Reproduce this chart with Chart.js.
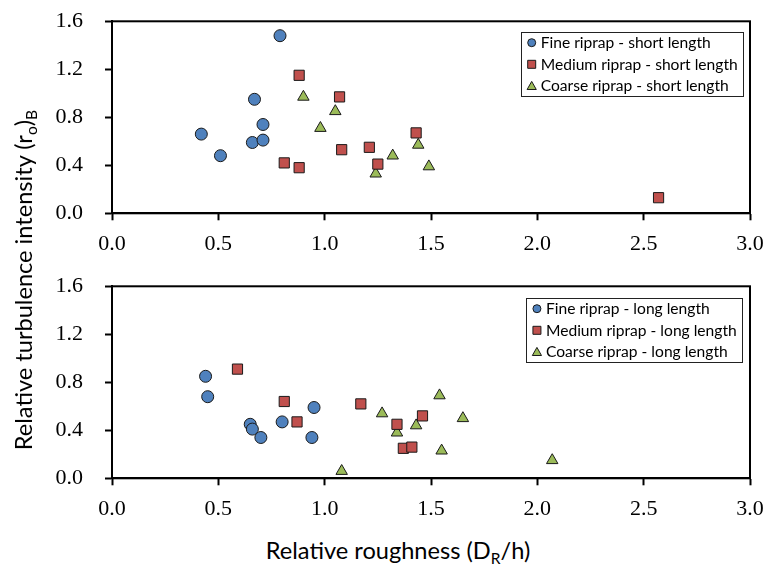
<!DOCTYPE html>
<html>
<head>
<meta charset="utf-8">
<script src="https://cdn.jsdelivr.net/npm/chart.js@4/dist/chart.umd.min.js"></script>
<style>
  html, body { margin: 0; padding: 0; background: #fff; }
  #wrap { position: relative; width: 765px; height: 567px; background: #fff; overflow: hidden; }
  canvas { position: absolute; left: 0; }
  #cTop { top: 0; }
  #cBottom { top: 262px; }
  .title { position: absolute; font-family: Lato, sans-serif; font-size: 23.6px; line-height: 26px;
           color: #000; white-space: nowrap; text-align: center; }
  .title sub { font-size: 0.66em; line-height: 0; vertical-align: -0.35em; }
  #xTitle { left: 198px; width: 400px; top: 537px; height: 26px; }
  #yTitle { left: -187px; width: 420px; top: 267px; height: 26px; transform: rotate(-90deg); transform-origin: 50% 50%; }
</style>
</head>
<body>
<div id="wrap">
  <canvas id="cTop" width="765" height="262"></canvas>
  <canvas id="cBottom" width="765" height="265"></canvas>
  <div class="title" id="xTitle">Relative roughness (D<sub>R</sub>/h)</div>
  <div class="title" id="yTitle">Relative turbulence intensity (r<sub>o</sub>)<sub>B</sub></div>
</div>
<script>
// Axis ranges and tick steps
const xTickValues = [0.0, 0.5, 1.0, 1.5, 2.0, 2.5, 3.0];
const yTickValues = [0.0, 0.4, 0.8, 1.2, 1.6];

// Short-length test series: relative roughness (x) and turbulence intensity (y)
const fineShortX   = [0.42, 0.51, 0.66, 0.67, 0.71, 0.71, 0.79];
const fineShortY   = [0.66, 0.48, 0.59, 0.95, 0.74, 0.61, 1.48];
const mediumShortX = [0.81, 0.88, 0.88, 1.07, 1.08, 1.21, 1.25, 1.43, 2.57];
const mediumShortY = [0.42, 0.38, 1.15, 0.97, 0.53, 0.55, 0.41, 0.67, 0.13];
const coarseShortX = [0.90, 0.98, 1.05, 1.24, 1.32, 1.44, 1.49];
const coarseShortY = [0.97, 0.71, 0.85, 0.33, 0.48, 0.57, 0.39];

// Long-length test series
const fineLongX   = [0.44, 0.45, 0.65, 0.66, 0.70, 0.80, 0.94, 0.95];
const fineLongY   = [0.85, 0.68, 0.45, 0.41, 0.34, 0.47, 0.34, 0.59];
const mediumLongX = [0.59, 0.81, 0.87, 1.17, 1.34, 1.37, 1.41, 1.46];
const mediumLongY = [0.91, 0.64, 0.47, 0.62, 0.45, 0.25, 0.26, 0.52];
const coarseLongX = [1.08, 1.27, 1.34, 1.43, 1.54, 1.65, 1.55, 2.07];
const coarseLongY = [0.06, 0.54, 0.38, 0.44, 0.69, 0.50, 0.23, 0.15];

const shortLabels = ['Fine riprap - short length', 'Medium riprap - short length', 'Coarse riprap - short length'];
const longLabels  = ['Fine riprap - long length', 'Medium riprap - long length', 'Coarse riprap - long length'];

const COLORS = { fine: '#4F81BD', medium: '#C0504D', coarse: '#9BBB59' };
const MARKERS = {
  fine:   { pointStyle: 'circle',   radius: 6 },
  medium: { pointStyle: 'rect',     radius: 7.2 },
  coarse: { pointStyle: 'triangle', radius: 6.6 }
};

function pairs(xs, ys) { return xs.map((x, i) => ({ x: x, y: ys[i] })); }

function series(label, kind, xs, ys) {
  return {
    label: label,
    kind: kind,
    data: pairs(xs, ys),
    backgroundColor: COLORS[kind],
    borderColor: '#1a1a1a',
    borderWidth: 1,
    pointStyle: MARKERS[kind].pointStyle,
    pointRadius: MARKERS[kind].radius,
    pointHoverRadius: MARKERS[kind].radius,
    showLine: false
  };
}

// Frame around the plot area (top and right edges complete the box)
const frame = {
  id: 'frame',
  afterDraw(chart) {
    const a = chart.chartArea, ctx = chart.ctx;
    ctx.save();
    ctx.strokeStyle = '#000';
    ctx.lineWidth = 2;
    ctx.strokeRect(a.left, a.top, a.right - a.left, a.bottom - a.top);
    ctx.restore();
  }
};

// Boxed legend inside the upper-right corner of the plot area
function legendMarker(ctx, kind, x, y) {
  ctx.fillStyle = COLORS[kind];
  ctx.strokeStyle = '#1a1a1a';
  ctx.lineWidth = 1;
  ctx.beginPath();
  if (kind === 'fine') {
    ctx.arc(x, y, 4, 0, Math.PI * 2);
  } else if (kind === 'medium') {
    ctx.rect(x - 4, y - 4, 8, 8);
  } else {
    ctx.moveTo(x, y - 4.5);
    ctx.lineTo(x + 4.6, y + 3.6);
    ctx.lineTo(x - 4.6, y + 3.6);
    ctx.closePath();
  }
  ctx.fill();
  ctx.stroke();
}

const boxedLegend = {
  id: 'boxedLegend',
  afterDraw(chart, args, opts) {
    const a = chart.chartArea, ctx = chart.ctx;
    ctx.save();
    ctx.font = opts.fontSize + 'px Lato, sans-serif';
    const items = chart.data.datasets;
    let textW = 0;
    items.forEach(d => { textW = Math.max(textW, ctx.measureText(d.label).width); });
    const right = a.right - opts.offsetRight;
    const left = right - (20 + textW + 5);
    const top = a.top + opts.offsetTop;
    const rowH = 21.6;
    const height = 10.4 + rowH * 2 + 10.3;
    ctx.fillStyle = '#fff';
    ctx.fillRect(left, top, right - left, height);
    ctx.strokeStyle = '#222';
    ctx.lineWidth = 1;
    ctx.strokeRect(Math.round(left) + 0.5, Math.round(top) + 0.5, Math.round(right - left), Math.round(height));
    items.forEach((d, i) => {
      const y = top + 10.4 + i * rowH;
      legendMarker(ctx, d.kind, left + 11, y);
      ctx.fillStyle = '#000';
      ctx.textAlign = 'left';
      ctx.textBaseline = 'middle';
      ctx.fillText(d.label, left + 20, y + 0.5);
    });
    ctx.restore();
  }
};

function makeChart(canvasId, datasets, padTop, legendOffsets) {
  const canvas = document.getElementById(canvasId);
  const chartBottom = padTop + 192; // plot height for 0.0–1.6
  return new Chart(canvas, {
    type: 'scatter',
    data: { datasets: datasets },
    plugins: [frame, boxedLegend],
    options: {
      responsive: false,
      animation: false,
      devicePixelRatio: 1,
      layout: { padding: { left: 0, right: 15, top: padTop, bottom: 0 } },
      plugins: {
        legend: { display: false },
        tooltip: { enabled: false },
        boxedLegend: { fontSize: 15.6, offsetTop: legendOffsets.top, offsetRight: legendOffsets.right }
      },
      scales: {
        x: {
          type: 'linear',
          min: xTickValues[0],
          max: xTickValues[xTickValues.length - 1],
          afterBuildTicks(scale) { scale.ticks = xTickValues.map(v => ({ value: v })); },
          afterFit(scale) {
            scale.height = canvas.height - chartBottom;
            scale.paddingLeft = 0;
            scale.paddingRight = 0;
          },
          ticks: {
            callback: v => Number(v).toFixed(1),
            font: { family: 'Liberation Serif', size: 22 },
            color: '#000',
            padding: 11,
            maxRotation: 0,
            autoSkip: false
          },
          grid: { display: true, drawOnChartArea: false, drawTicks: true, tickLength: 7, tickColor: '#000', tickWidth: 2 },
          border: { display: true, color: '#000', width: 2 }
        },
        y: {
          type: 'linear',
          min: yTickValues[0],
          max: yTickValues[yTickValues.length - 1],
          afterBuildTicks(scale) { scale.ticks = yTickValues.map(v => ({ value: v })); },
          afterFit(scale) {
            scale.width = 112;
            scale.paddingTop = 0;
            scale.paddingBottom = 0;
          },
          ticks: {
            callback: v => Number(v).toFixed(1),
            font: { family: 'Liberation Serif', size: 22 },
            color: '#000',
            padding: 22,
            autoSkip: false
          },
          grid: { display: true, drawOnChartArea: false, drawTicks: true, tickLength: 7, tickColor: '#000', tickWidth: 2 },
          border: { display: true, color: '#000', width: 2 }
        }
      }
    }
  });
}

makeChart('cTop', [
  series(shortLabels[0], 'fine',   fineShortX,   fineShortY),
  series(shortLabels[1], 'medium', mediumShortX, mediumShortY),
  series(shortLabels[2], 'coarse', coarseShortX, coarseShortY)
], 21.3, { top: 11, right: 7.3 });

makeChart('cBottom', [
  series(longLabels[0], 'fine',   fineLongX,   fineLongY),
  series(longLabels[1], 'medium', mediumLongX, mediumLongY),
  series(longLabels[2], 'coarse', coarseLongX, coarseLongY)
], 24.3, { top: 12, right: 8.3 });
</script>
</body>
</html>
